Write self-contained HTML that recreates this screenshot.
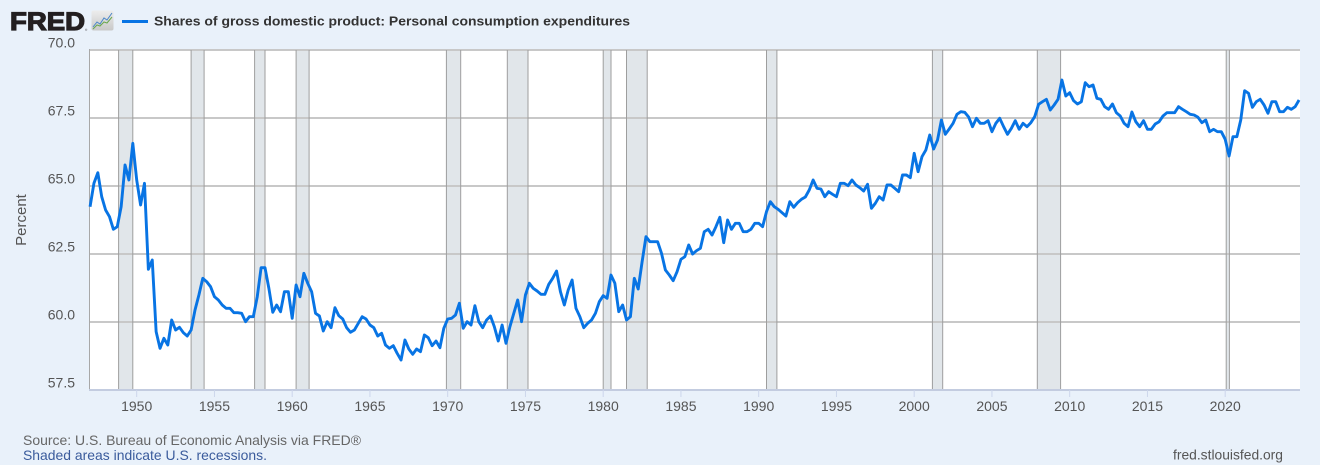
<!DOCTYPE html>
<html>
<head>
<meta charset="utf-8">
<style>
  html, body { margin:0; padding:0; }
  body { width:1320px; height:465px; background:#e9f1fa; overflow:hidden; }
  svg { display:block; }
  text { font-family:"Liberation Sans", Arial, sans-serif; }
</style>
</head>
<body>
<svg width="1320" height="465" viewBox="0 0 1320 465" xmlns="http://www.w3.org/2000/svg">
  <rect x="0" y="0" width="1320" height="465" fill="#e9f1fa"/>

  <!-- Header -->
  <text x="10" y="30" font-size="25" font-weight="bold" fill="#231f20" stroke="#231f20" stroke-width="1.2" textLength="75" lengthAdjust="spacingAndGlyphs">FRED</text>
  <text x="85" y="31" font-size="3" fill="#231f20">®</text>
  <defs>
    <linearGradient id="ig" x1="0" y1="0" x2="0" y2="1">
      <stop offset="0" stop-color="#ededed"/>
      <stop offset="1" stop-color="#c8c8c8"/>
    </linearGradient>
  </defs>
  <rect x="91.5" y="10.5" width="22" height="20" rx="2" fill="url(#ig)"/>
  <polyline points="93,27 97,22 100,24 104,18 107,20 112,13" fill="none" stroke="#4a86c8" stroke-width="1"/>
  <polyline points="93,29 97,25 100,26 104,22 107,23 112,17" fill="none" stroke="#6aa84f" stroke-width="1"/>
  <line x1="122" y1="21.5" x2="148" y2="21.5" stroke="#0874e4" stroke-width="3"/>
  <text x="154" y="25.5" font-size="13" font-weight="bold" fill="#333" textLength="476" lengthAdjust="spacingAndGlyphs">Shares of gross domestic product: Personal consumption expenditures</text>

  <!-- Plot area -->
  <rect x="89" y="50" width="1211" height="340" fill="#ffffff"/>

  <!-- Recession bands -->
  <g fill="#e1e6ea">
    <rect x="118.6" y="50" width="14.2" height="340"/>
    <rect x="191.1" y="50" width="13.0" height="340"/>
    <rect x="254.6" y="50" width="10.4" height="340"/>
    <rect x="296.1" y="50" width="13.0" height="340"/>
    <rect x="446.4" y="50" width="14.3" height="340"/>
    <rect x="507.3" y="50" width="20.7" height="340"/>
    <rect x="603.2" y="50" width="7.8" height="340"/>
    <rect x="626.5" y="50" width="20.7" height="340"/>
    <rect x="766.5" y="50" width="10.4" height="340"/>
    <rect x="932.4" y="50" width="10.3" height="340"/>
    <rect x="1037.3" y="50" width="23.3" height="340"/>
    <rect x="1226.2" y="50" width="3.2" height="340"/>
  </g>

  <!-- Gridlines -->
  <g stroke="#c8c8c8" stroke-width="2">
    <line x1="89" y1="50" x2="1300" y2="50"/>
    <line x1="89" y1="118" x2="1300" y2="118"/>
    <line x1="89" y1="186" x2="1300" y2="186"/>
    <line x1="89" y1="254" x2="1300" y2="254"/>
    <line x1="89" y1="322" x2="1300" y2="322"/>
  </g>

  <!-- Recession borders -->
  <g stroke="#9e9e9e" stroke-width="1">
    <line x1="118.6" y1="50" x2="118.6" y2="390"/><line x1="132.8" y1="50" x2="132.8" y2="390"/>
    <line x1="191.1" y1="50" x2="191.1" y2="390"/><line x1="204.1" y1="50" x2="204.1" y2="390"/>
    <line x1="254.6" y1="50" x2="254.6" y2="390"/><line x1="265.0" y1="50" x2="265.0" y2="390"/>
    <line x1="296.1" y1="50" x2="296.1" y2="390"/><line x1="309.1" y1="50" x2="309.1" y2="390"/>
    <line x1="446.4" y1="50" x2="446.4" y2="390"/><line x1="460.7" y1="50" x2="460.7" y2="390"/>
    <line x1="507.3" y1="50" x2="507.3" y2="390"/><line x1="528.0" y1="50" x2="528.0" y2="390"/>
    <line x1="603.2" y1="50" x2="603.2" y2="390"/><line x1="611.0" y1="50" x2="611.0" y2="390"/>
    <line x1="626.5" y1="50" x2="626.5" y2="390"/><line x1="647.2" y1="50" x2="647.2" y2="390"/>
    <line x1="766.5" y1="50" x2="766.5" y2="390"/><line x1="776.9" y1="50" x2="776.9" y2="390"/>
    <line x1="932.4" y1="50" x2="932.4" y2="390"/><line x1="942.7" y1="50" x2="942.7" y2="390"/>
    <line x1="1037.3" y1="50" x2="1037.3" y2="390"/><line x1="1060.6" y1="50" x2="1060.6" y2="390"/>
    <line x1="1226.2" y1="50" x2="1226.2" y2="390"/><line x1="1229.4" y1="50" x2="1229.4" y2="390"/>
  </g>

  <!-- Left border and bottom axis -->
  <line x1="89.5" y1="49" x2="89.5" y2="390" stroke="#a8a8a8" stroke-width="1"/>
  <line x1="89" y1="390" x2="1300" y2="390" stroke="#c3cce0" stroke-width="2"/>
  <g stroke="#ccd6eb" stroke-width="1">
    <line x1="136.7" y1="390" x2="136.7" y2="397"/>
    <line x1="214.45" y1="390" x2="214.45" y2="397"/>
    <line x1="292.2" y1="390" x2="292.2" y2="397"/>
    <line x1="369.95" y1="390" x2="369.95" y2="397"/>
    <line x1="447.7" y1="390" x2="447.7" y2="397"/>
    <line x1="525.45" y1="390" x2="525.45" y2="397"/>
    <line x1="603.2" y1="390" x2="603.2" y2="397"/>
    <line x1="680.95" y1="390" x2="680.95" y2="397"/>
    <line x1="758.7" y1="390" x2="758.7" y2="397"/>
    <line x1="836.45" y1="390" x2="836.45" y2="397"/>
    <line x1="914.2" y1="390" x2="914.2" y2="397"/>
    <line x1="991.95" y1="390" x2="991.95" y2="397"/>
    <line x1="1069.7" y1="390" x2="1069.7" y2="397"/>
    <line x1="1147.45" y1="390" x2="1147.45" y2="397"/>
    <line x1="1225.2" y1="390" x2="1225.2" y2="397"/>
  </g>

  <!-- Series -->
  <g transform="translate(90.05,0) scale(3.8875,1)">
    <polyline fill="none" stroke="#0874e4" stroke-width="2.9" stroke-linejoin="round" vector-effect="non-scaling-stroke" points="0,206.7 1,183.3 2,172.7 3,196.7 4,210 5,216.7 6,229.3 7,226.7 8,206.7 9,165 10,180 11,143.3 12,180 13,205 14,183.3 15,269.3 16,260 17,331.7 18,348.3 19,338.3 20,345 21,320 22,330 23,327.3 24,332.7 25,336 26,330 27,310 28,295 29,278.3 30,281.7 31,286.7 32,296.7 33,300 34,305 35,308.3 36,308.3 37,312.7 38,312.7 39,313.3 40,321.7 41,316.7 42,316.7 43,297 44,267.7 45,267.7 46,288.3 47,312.3 48,305 49,311.7 50,291.7 51,291.7 52,318.3 53,285 54,296.7 55,273.3 56,283.3 57,291.7 58,313.3 59,316 60,331 61,321.7 62,327.7 63,307.7 64,315.7 65,319 66,327.7 67,332.3 68,330 69,323.3 70,316.7 71,319 72,325 73,327.7 74,336 75,333.3 76,345 77,348.3 78,345.7 79,353.3 80,360 81,340 82,349 83,354.3 84,349 85,351.7 86,335 87,337.7 88,345.7 89,341 90,347.7 91,328.3 92,319 93,318.3 94,315 95,303.3 96,328.3 97,321.7 98,325 99,305.7 100,321.7 101,327.7 102,320 103,316 104,326.7 105,341 106,325 107,343.3 108,326.7 109,313.3 110,300 111,321.7 112,295 113,283.3 114,288.3 115,291 116,294.3 117,294.3 118,284.3 119,278.3 120,271 121,291.7 122,305 123,290 124,280 125,308.3 126,316.7 127,327.7 128,323.3 129,320 130,313.3 131,301.7 132,295.7 133,298.3 134,275 135,283.3 136,311.7 137,305 138,320 139,316.7 140,278.3 141,289 142,262 143,236.7 144,241.7 145,241.7 146,241.7 147,253.3 148,270 149,275 150,280.7 151,271.7 152,259.3 153,256.7 154,245 155,254 156,250.7 157,248.3 158,231.7 159,229.3 160,235 161,226.7 162,217.3 163,242.7 164,220 165,229.3 166,223.3 167,223.3 168,231.7 169,231.7 170,229.3 171,223.3 172,223.3 173,226.7 174,211.7 175,201.7 176,206.7 177,209.3 178,212.7 179,216 180,201.7 181,207.3 182,202.7 183,199.3 184,197 185,190 186,180 187,188.3 188,189 189,196.7 190,191.7 191,194.3 192,196.7 193,183.3 194,183.3 195,185.7 196,180 197,185 198,187.7 199,191 200,184.3 201,208.3 202,203.3 203,196.7 204,200 205,185 206,185 207,188.3 208,191.7 209,175 210,175 211,177.7 212,153.3 213,171.7 214,156.7 215,150 216,135 217,149 218,140 219,120 220,134.3 221,129 222,123.3 223,114.3 224,111.7 225,112.3 226,117 227,126.7 228,118.3 229,123.3 230,123.3 231,120.7 232,131.7 233,123.3 234,118.3 235,126.7 236,134.3 237,128.3 238,120.7 239,129.3 240,123.3 241,126.7 242,122.7 243,116.7 244,104.3 245,101.7 246,99.3 247,110 248,105 249,99.3 250,80 251,96 252,92.7 253,100.7 254,104 255,101.7 256,82.7 257,86.7 258,85 259,98.3 260,99.3 261,106.7 262,109.3 263,104 264,112.7 265,116 266,123.3 267,126.7 268,112 269,121.7 270,126.7 271,120.7 272,129.3 273,129.3 274,124 275,121.7 276,116 277,112.7 278,112.7 279,112.7 280,106.7 281,109.3 282,111.7 283,114.3 284,115 285,117.3 286,122.7 287,120 288,131.7 289,129.3 290,131.7 291,131.7 292,139.3 293,156 294,136.7 295,136.7 296,120 297,90.7 298,93.3 299,107.3 300,101.7 301,99.3 302,105 303,113.3 304,101.7 305,101.7 306,111.7 307,111.7 308,107.3 309,109.3 310,106.7 311,100"/>
  </g>

  <!-- Y axis labels -->
  <g font-size="14" fill="#555" text-anchor="end">
    <text x="75" y="47.5">70.0</text>
    <text x="75" y="115.5">67.5</text>
    <text x="75" y="183.5">65.0</text>
    <text x="75" y="251.5">62.5</text>
    <text x="75" y="319.5">60.0</text>
    <text x="75" y="387.5">57.5</text>
  </g>
  <text x="0" y="0" font-size="15" fill="#555" text-anchor="middle" transform="translate(26,220) rotate(-90)">Percent</text>

  <!-- X axis labels -->
  <g font-size="14" fill="#555" text-anchor="middle">
    <text x="136.7" y="411">1950</text>
    <text x="214.45" y="411">1955</text>
    <text x="292.2" y="411">1960</text>
    <text x="369.95" y="411">1965</text>
    <text x="447.7" y="411">1970</text>
    <text x="525.45" y="411">1975</text>
    <text x="603.2" y="411">1980</text>
    <text x="680.95" y="411">1985</text>
    <text x="758.7" y="411">1990</text>
    <text x="836.45" y="411">1995</text>
    <text x="914.2" y="411">2000</text>
    <text x="991.95" y="411">2005</text>
    <text x="1069.7" y="411">2010</text>
    <text x="1147.45" y="411">2015</text>
    <text x="1225.2" y="411">2020</text>
  </g>

  <!-- Footer -->
  <text x="23" y="445" font-size="14" fill="#666" textLength="338" lengthAdjust="spacingAndGlyphs">Source: U.S. Bureau of Economic Analysis via FRED®</text>
  <text x="23" y="460" font-size="14" fill="#3a5b9c" textLength="244" lengthAdjust="spacingAndGlyphs">Shaded areas indicate U.S. recessions.</text>
  <text x="1283" y="459.5" font-size="14" fill="#555" text-anchor="end" textLength="110" lengthAdjust="spacingAndGlyphs">fred.stlouisfed.org</text>
</svg>
</body>
</html>
